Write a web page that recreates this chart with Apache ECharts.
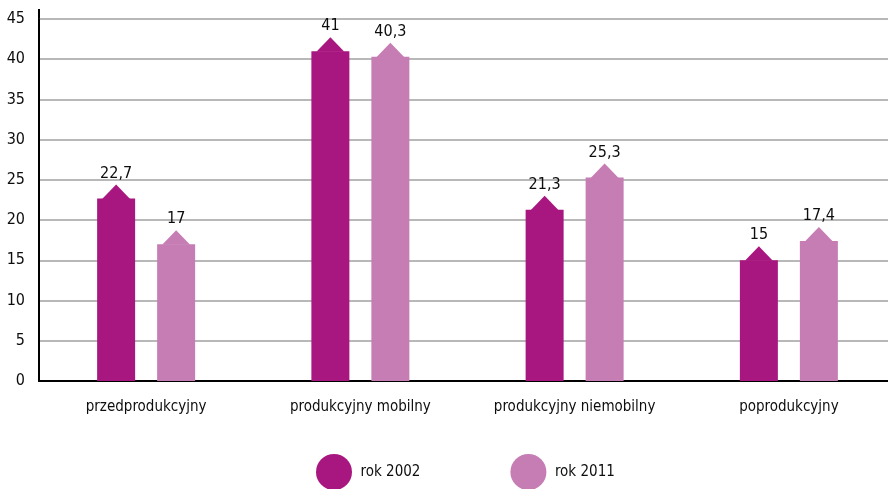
<!DOCTYPE html>
<html>
<head>
<meta charset="utf-8">
<style>
  html, body { margin: 0; padding: 0; background: #fff; }
  #chart { width: 888px; height: 489px; }
</style>
<script src="https://cdn.jsdelivr.net/npm/echarts@6/dist/echarts.min.js"></script>
</head>
<body>
<div id="chart"></div>
<script>
const categories = ['przedprodukcyjny', 'produkcyjny mobilny', 'produkcyjny niemobilny', 'poprodukcyjny'];
const rok2002 = [22.7, 41, 21.3, 15];
const rok2011 = [17, 40.3, 25.3, 17.4];
const yTicks = [0, 5, 10, 15, 20, 25, 30, 35, 40, 45];

const FONT = '"Liberation Sans Narrow", "DejaVu Sans Condensed", "Roboto", sans-serif';
const COLOR_2002 = '#A8177F';
const COLOR_2011 = '#C67DB4';
const TEXT = '#0d0d0d';

const BAR_W = 38;
const HALF_GAP = 30; // distance from category centre to each bar centre
const TIP_H = 14;
const TIP_INSET = 5;

function fmt(v) { return String(v).replace('.', ','); }

// bar with a pointed top, value label above the tip
function arrowBar(offset, color) {
  return function (params, api) {
    const idx = api.value(0);
    const val = api.value(1);
    const top = api.coord([idx, val]);
    const base = api.coord([idx, 0]);
    const cx = top[0] + offset;
    const x0 = cx - BAR_W / 2;
    return {
      type: 'group',
      children: [
        { type: 'rect', shape: { x: x0, y: top[1], width: BAR_W, height: base[1] - top[1] }, style: { fill: color } },
        { type: 'polygon', shape: { points: [[x0 + TIP_INSET, top[1] + 0.5], [cx, top[1] - TIP_H], [x0 + BAR_W - TIP_INSET, top[1] + 0.5]] }, style: { fill: color } },
        { type: 'text', x: cx, y: top[1] - TIP_H - 3, style: { text: fmt(val), textAlign: 'center', textVerticalAlign: 'bottom', font: '16px ' + FONT, fill: TEXT } }
      ]
    };
  };
}

const chart = echarts.init(document.getElementById('chart'), null, { renderer: 'canvas' });
chart.setOption({
  animation: false,
  backgroundColor: '#fff',
  grid: { left: 39, right: -8, top: 19, bottom: 108, containLabel: false, outerBoundsMode: 'none' },
  xAxis: {
    type: 'category',
    data: categories,
    axisLine: { lineStyle: { color: '#000', width: 2 } },
    axisTick: { show: false },
    axisLabel: { color: TEXT, fontFamily: FONT, fontSize: 15, margin: 19 },
    splitLine: { show: false }
  },
  yAxis: {
    type: 'value',
    min: yTicks[0],
    max: yTicks[yTicks.length - 1],
    interval: 5,
    axisLine: { show: true, lineStyle: { color: '#000', width: 2 } },
    axisTick: { show: false },
    axisLabel: { color: TEXT, fontFamily: FONT, fontSize: 16, margin: 14 },
    splitLine: { lineStyle: { color: '#a0a0a0', width: 1.5 } }
  },
  legend: {
    left: 316,
    top: 454,
    padding: 0,
    itemWidth: 37,
    itemHeight: 36,
    itemGap: 90,
    icon: 'circle',
    textStyle: { color: TEXT, fontFamily: FONT, fontSize: 15, padding: [0, 0, 0, 3] },
    data: ['rok 2002', 'rok 2011']
  },
  graphic: [
    { type: 'line', shape: { x1: 39, y1: 9, x2: 39, y2: 20 }, style: { stroke: '#000', lineWidth: 2 } }
  ],
  series: [
    {
      name: 'rok 2002', type: 'custom', itemStyle: { color: COLOR_2002 },
      renderItem: arrowBar(-HALF_GAP, COLOR_2002),
      data: rok2002.map((v, i) => [i, v])
    },
    {
      name: 'rok 2011', type: 'custom', itemStyle: { color: COLOR_2011 },
      renderItem: arrowBar(HALF_GAP, COLOR_2011),
      data: rok2011.map((v, i) => [i, v])
    }
  ]
});
</script>
</body>
</html>
